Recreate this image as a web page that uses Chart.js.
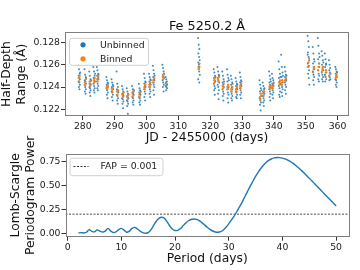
<!DOCTYPE html>
<html>
<head>
<meta charset="utf-8">
<script src="https://cdn.jsdelivr.net/npm/chart.js@4.4.1/dist/chart.umd.min.js"></script>
<style>
  html, body { margin: 0; padding: 0; background: #fff; }
  #wrap { position: relative; width: 360px; height: 270px; }
  canvas { position: absolute; left: 0; top: 0; }
</style>
</head>
<body>
<div id="wrap">
  <canvas id="lines" width="360" height="270"></canvas>
  <canvas id="power" width="360" height="270"></canvas>
</div>
<script>
// nights of observation (JD - 2455000) and half-depth range per exposure
var nightJD = [278.6, 280.5, 282.0, 283.3, 284.4, 287.4, 289.0, 290.6, 292.3, 293.8,
  295.5, 297.6, 299.2, 300.8, 302.0, 305.0, 306.0, 316.2, 321.1, 322.3,
  323.8, 325.3, 326.5, 328.0, 329.3, 335.5, 336.5, 338.5, 339.4, 341.5,
  342.3, 343.4, 350.6, 352.2, 353.8, 355.0, 356.0, 357.3, 359.3];

var unbinned = [
  [0.1260, 0.1256, 0.1252, 0.1250, 0.1248, 0.1247, 0.1245, 0.1244, 0.1242, 0.1240, 0.1238, 0.1253],
  [0.1256, 0.1251, 0.1249, 0.1246, 0.1245, 0.1243, 0.1242, 0.1240, 0.1238, 0.1236, 0.1234, 0.1248],
  [0.1254, 0.1250, 0.1247, 0.1245, 0.1243, 0.1242, 0.1240, 0.1239, 0.1237, 0.1235, 0.1232, 0.1246],
  [0.1258, 0.1254, 0.1250, 0.1248, 0.1246, 0.1245, 0.1243, 0.1241, 0.1239, 0.1237, 0.1235, 0.1252],
  [0.1258, 0.1255, 0.1252, 0.1250, 0.1248, 0.1247, 0.1245, 0.1243, 0.1241, 0.1239, 0.1237, 0.1251],
  [0.1249, 0.1246, 0.1244, 0.1242, 0.1241, 0.1240, 0.1239, 0.1237, 0.1235, 0.1233, 0.1230, 0.1243],
  [0.1247, 0.1244, 0.1242, 0.1240, 0.1239, 0.1238, 0.1236, 0.1235, 0.1233, 0.1231, 0.1228, 0.1241],
  [0.1254, 0.1243, 0.1240, 0.1238, 0.1236, 0.1235, 0.1233, 0.1232, 0.1230, 0.1228, 0.1225, 0.1237],
  [0.1241, 0.1238, 0.1236, 0.1234, 0.1233, 0.1232, 0.1230, 0.1229, 0.1227, 0.1225, 0.1221, 0.1235],
  [0.1239, 0.1236, 0.1234, 0.1232, 0.1231, 0.1230, 0.1228, 0.1227, 0.1225, 0.1223, 0.1216, 0.1233],
  [0.1241, 0.1238, 0.1236, 0.1235, 0.1234, 0.1233, 0.1231, 0.1230, 0.1228, 0.1226, 0.1224, 0.1237],
  [0.1243, 0.1239, 0.1237, 0.1235, 0.1234, 0.1233, 0.1231, 0.1230, 0.1228, 0.1226, 0.1224, 0.1236],
  [0.1252, 0.1248, 0.1245, 0.1243, 0.1241, 0.1240, 0.1238, 0.1236, 0.1234, 0.1231, 0.1228, 0.1244],
  [0.1252, 0.1249, 0.1247, 0.1245, 0.1243, 0.1242, 0.1240, 0.1238, 0.1236, 0.1234, 0.1231, 0.1246],
  [0.1259, 0.1255, 0.1252, 0.1249, 0.1247, 0.1246, 0.1244, 0.1242, 0.1240, 0.1237, 0.1233, 0.1250],
  [0.1260, 0.1257, 0.1254, 0.1251, 0.1249, 0.1248, 0.1246, 0.1244, 0.1242, 0.1240, 0.1236, 0.1252],
  [0.1249, 0.1247, 0.1245, 0.1244, 0.1243, 0.1242, 0.1241, 0.1240, 0.1239, 0.1237],
  [0.1284, 0.1278, 0.1274, 0.1270, 0.1267, 0.1264, 0.1262, 0.1260, 0.1258, 0.1256, 0.1254, 0.1251, 0.1247, 0.1244],
  [0.1256, 0.1253, 0.1250, 0.1248, 0.1246, 0.1245, 0.1243, 0.1241, 0.1239, 0.1237, 0.1233, 0.1249],
  [0.1258, 0.1254, 0.1251, 0.1248, 0.1246, 0.1244, 0.1242, 0.1240, 0.1237, 0.1234, 0.1229, 0.1250],
  [0.1254, 0.1250, 0.1247, 0.1244, 0.1242, 0.1240, 0.1238, 0.1236, 0.1234, 0.1232, 0.1228, 0.1245],
  [0.1256, 0.1251, 0.1248, 0.1245, 0.1242, 0.1240, 0.1238, 0.1235, 0.1233, 0.1230, 0.1226, 0.1246],
  [0.1250, 0.1247, 0.1244, 0.1242, 0.1240, 0.1238, 0.1236, 0.1234, 0.1232, 0.1230, 0.1228, 0.1243],
  [0.1248, 0.1245, 0.1243, 0.1241, 0.1239, 0.1238, 0.1236, 0.1235, 0.1233, 0.1231, 0.1230, 0.1242],
  [0.1253, 0.1249, 0.1246, 0.1244, 0.1242, 0.1241, 0.1239, 0.1237, 0.1235, 0.1233, 0.1230, 0.1245],
  [0.1246, 0.1242, 0.1239, 0.1236, 0.1234, 0.1232, 0.1230, 0.1228, 0.1226, 0.1224, 0.1219, 0.1237],
  [0.1244, 0.1241, 0.1238, 0.1236, 0.1235, 0.1234, 0.1232, 0.1230, 0.1228, 0.1226, 0.1223, 0.1239],
  [0.1254, 0.1250, 0.1247, 0.1244, 0.1242, 0.1240, 0.1238, 0.1236, 0.1234, 0.1231, 0.1228, 0.1245],
  [0.1252, 0.1248, 0.1246, 0.1243, 0.1242, 0.1241, 0.1239, 0.1237, 0.1235, 0.1233, 0.1230, 0.1244],
  [0.1263, 0.1256, 0.1252, 0.1248, 0.1245, 0.1243, 0.1241, 0.1239, 0.1236, 0.1233, 0.1231, 0.1249],
  [0.1269, 0.1258, 0.1253, 0.1249, 0.1246, 0.1244, 0.1242, 0.1240, 0.1238, 0.1235, 0.1232, 0.1250],
  [0.1258, 0.1254, 0.1251, 0.1249, 0.1247, 0.1246, 0.1244, 0.1242, 0.1240, 0.1237, 0.1234, 0.1250],
  [0.1286, 0.1281, 0.1276, 0.1271, 0.1267, 0.1264, 0.1261, 0.1258, 0.1255, 0.1252, 0.1248, 0.1242, 0.1269, 0.1259],
  [0.1276, 0.1270, 0.1265, 0.1261, 0.1258, 0.1256, 0.1254, 0.1251, 0.1249, 0.1246, 0.1242, 0.1263],
  [0.1284, 0.1277, 0.1270, 0.1265, 0.1261, 0.1258, 0.1255, 0.1252, 0.1250, 0.1247, 0.1245, 0.1267],
  [0.1272, 0.1268, 0.1264, 0.1260, 0.1257, 0.1255, 0.1253, 0.1251, 0.1249, 0.1247, 0.1245, 0.1262],
  [0.1270, 0.1265, 0.1261, 0.1258, 0.1255, 0.1253, 0.1251, 0.1249, 0.1247, 0.1245, 0.1260],
  [0.1264, 0.1260, 0.1257, 0.1255, 0.1253, 0.1252, 0.1250, 0.1249, 0.1247, 0.1246],
  [0.1258, 0.1256, 0.1254, 0.1252, 0.1250, 0.1249, 0.1247, 0.1246, 0.1244, 0.1242, 0.1240, 0.1253]
];

var binned = [
  [0.1248, 0.1245, 0.1250], [0.1244, 0.1242, 0.1247], [0.1243, 0.1241, 0.1245],
  [0.1246, 0.1244, 0.1248], [0.1247, 0.1245, 0.1249], [0.1240, 0.1238, 0.1241],
  [0.1238, 0.1236, 0.1239], [0.1236, 0.1233, 0.1237], [0.1233, 0.1231, 0.1235],
  [0.1231, 0.1229, 0.1233], [0.1234, 0.1232, 0.1236], [0.1233, 0.1231, 0.1235],
  [0.1240, 0.1238, 0.1242], [0.1242, 0.1240, 0.1244], [0.1246, 0.1244, 0.1248],
  [0.1249, 0.1247, 0.1251], [0.1243], [0.1258, 0.1256, 0.1261],
  [0.1246, 0.1244, 0.1248], [0.1247, 0.1245, 0.1249], [0.1241, 0.1239, 0.1243],
  [0.1240, 0.1238, 0.1242], [0.1238, 0.1236, 0.1240], [0.1238, 0.1236, 0.1240],
  [0.1241, 0.1239, 0.1243], [0.1231, 0.1229, 0.1234], [0.1234, 0.1232, 0.1236],
  [0.1240, 0.1238, 0.1241], [0.1241, 0.1239, 0.1243], [0.1244, 0.1242, 0.1246],
  [0.1244, 0.1242, 0.1246], [0.1246, 0.1245, 0.1248], [0.1258, 0.1262, 0.1266],
  [0.1253, 0.1256, 0.1258], [0.1255, 0.1258, 0.1261], [0.1254, 0.1256, 0.1258],
  [0.1250, 0.1253, 0.1255], [0.1250, 0.1252], [0.1248, 0.1249, 0.1251]
];

// time of each exposure within a night (days after nightJD)
var obsOffsets = [0, 0.2, 0.4, 0.1, 0.3, 0.5, 0.05, 0.25, 0.45, 0.15, 0.35, 0.55, 0.02, 0.38];
var binOffsets = [0.12, 0.28, 0.44];

var jdTicks = [280, 290, 300, 310, 320, 330, 340, 350, 360];
var rangeTicks = [0.122, 0.124, 0.126, 0.128];

// Lomb-Scargle periodogram
var periods = [2.0, 2.5, 3.0, 3.5, 4.0, 4.5, 5.0, 5.5, 6.0, 6.5, 7.0, 7.5, 8.0, 8.5, 9.0, 9.5,
  10.0, 10.5, 11.0, 11.5, 12.0, 12.5, 13.0, 13.5, 14.0, 14.5, 15.0, 15.5, 16.0, 16.5, 17.0, 17.5,
  18.0, 18.5, 19.0, 19.5, 20.0, 20.5, 21.0, 21.5, 22.0, 22.5, 23.0, 23.5, 24.0, 24.5, 25.0, 25.5,
  26.0, 26.5, 27.0, 27.5, 28.0, 28.5, 29.0, 29.5, 30.0, 30.5, 31.0, 31.5, 32.0, 32.5, 33.0, 33.5,
  34.0, 34.5, 35.0, 35.5, 36.0, 36.5, 37.0, 37.5, 38.0, 38.5, 39.0, 39.5, 40.0, 40.5, 41.0, 41.5,
  42.0, 42.5, 43.0, 43.5, 44.0, 44.5, 45.0, 45.5, 46.0, 46.5, 47.0, 47.5, 48.0, 48.5, 49.0, 49.5, 50.0];
var power = [0.010, 0.014, 0.011, 0.018, 0.045, 0.028, 0.022, 0.042, 0.030, 0.020, 0.030, 0.058, 0.032, 0.015, 0.022, 0.045,
  0.058, 0.040, 0.018, 0.030, 0.058, 0.068, 0.052, 0.030, 0.014, 0.008, 0.014, 0.042, 0.088, 0.132, 0.162, 0.173,
  0.162, 0.128, 0.085, 0.052, 0.036, 0.038, 0.056, 0.085, 0.114, 0.137, 0.150, 0.155, 0.151, 0.138, 0.118, 0.094,
  0.069, 0.047, 0.031, 0.021, 0.018, 0.024, 0.042, 0.070, 0.105, 0.145, 0.185, 0.230, 0.280, 0.330, 0.385, 0.440,
  0.495, 0.545, 0.595, 0.640, 0.680, 0.714, 0.742, 0.763, 0.778, 0.787, 0.791, 0.790, 0.785, 0.776, 0.763, 0.748,
  0.730, 0.708, 0.684, 0.658, 0.632, 0.604, 0.576, 0.548, 0.519, 0.491, 0.462, 0.433, 0.404, 0.375, 0.347, 0.318, 0.290];
var fapLevel = 0.205;
var periodTicks = [0, 10, 20, 30, 40, 50];
var powerTicks = [0, 0.25, 0.5, 0.75];

var BLUE = "#1f77b4";
var ORANGE = "#ff7f0e";
var FONT = "'DejaVu Sans', sans-serif";
var TICK_FONT = { family: FONT, size: 9.3 };
var LABEL_FONT = { family: FONT, size: 12.3, lineHeight: 1.17 };

Chart.defaults.font.family = FONT;
Chart.defaults.color = "#222";

var unbinnedPoints = [];
var binnedPoints = [];
for (var i = 0; i < nightJD.length; i++) {
  for (var j = 0; j < unbinned[i].length; j++) {
    unbinnedPoints.push({ x: nightJD[i] + obsOffsets[j % obsOffsets.length], y: unbinned[i][j] });
  }
  for (var k = 0; k < binned[i].length; k++) {
    binnedPoints.push({ x: nightJD[i] + binOffsets[k], y: binned[i][k] });
  }
}

var powerPoints = periods.map(function (p, i) { return { x: p, y: power[i] }; });

function fixedTicks(list) {
  return function (scale) {
    scale.ticks = list.map(function (v) { return { value: v }; });
  };
}

// gray frame round the plot area, optional title, and an in-axes legend
function framePlugin(legend, title) {
  return {
    id: "frame",
    afterDraw: function (chart) {
      var ctx = chart.ctx, a = chart.chartArea;
      ctx.save();
      ctx.strokeStyle = "#808080";
      ctx.lineWidth = 1;
      ctx.strokeRect(Math.round(a.left) + 0.5, Math.round(a.top) + 0.5,
        Math.round(a.right - a.left) - 1, Math.round(a.bottom - a.top) - 1);

      if (title) {
        ctx.font = "12.8px " + FONT;
        ctx.fillStyle = "#111";
        ctx.textAlign = "center";
        ctx.textBaseline = "alphabetic";
        ctx.fillText(title, (a.left + a.right) / 2, a.top - 2.5);
        ctx.textAlign = "left";
      }

      var bx = a.left + 4, by = a.top + legend.dy;
      ctx.beginPath();
      ctx.roundRect(bx + 0.5, by + 0.5, legend.w, legend.h, 2.5);
      ctx.fillStyle = "rgba(255,255,255,0.8)";
      ctx.fill();
      ctx.strokeStyle = "#d0d0d0";
      ctx.stroke();

      ctx.font = "9.3px " + FONT;
      ctx.textBaseline = "middle";
      legend.items.forEach(function (it, n) {
        var y = by + legend.first + n * legend.step;
        if (it.kind === "dot") {
          ctx.beginPath();
          ctx.arc(bx + 14, y, 2.6, 0, Math.PI * 2);
          ctx.fillStyle = it.color;
          ctx.fill();
        } else {
          ctx.beginPath();
          ctx.setLineDash([2, 1.5]);
          ctx.strokeStyle = "#333";
          ctx.moveTo(bx + 4, y);
          ctx.lineTo(bx + 19, y);
          ctx.stroke();
          ctx.setLineDash([]);
        }
        ctx.fillStyle = "#222";
        ctx.fillText(it.text, bx + 31, y + 0.5);
      });
      ctx.restore();
    }
  };
}

new Chart(document.getElementById("lines").getContext("2d"), {
  type: "scatter",
  data: {
    datasets: [
      {
        label: "Binned",
        data: binnedPoints,
        backgroundColor: ORANGE,
        borderWidth: 0,
        pointRadius: 1.15,
        order: 1
      },
      {
        label: "Unbinned",
        data: unbinnedPoints,
        backgroundColor: "rgba(31,119,180,0.85)",
        borderWidth: 0,
        pointRadius: 1.0,
        order: 2
      }
    ]
  },
  options: {
    responsive: false,
    animation: false,
    layout: { padding: { left: 0, right: 11, top: 32.4, bottom: 125 } },
    plugins: {
      legend: { display: false },
      tooltip: { enabled: false },
      title: { display: false }
    },
    scales: {
      x: {
        type: "linear",
        min: 274.4,
        max: 363.6,
        afterBuildTicks: fixedTicks(jdTicks),
        afterFit: function (s) { s.height = 29; },
        border: { display: false },
        grid: { drawOnChartArea: false, drawTicks: true, tickLength: 4, color: "#333" },
        ticks: { font: TICK_FONT, padding: 1, maxRotation: 0, color: "#222" },
        title: { display: true, text: "JD - 2455000 (days)", font: LABEL_FONT, color: "#111", padding: { top: 0, bottom: 0 } }
      },
      y: {
        min: 0.1214,
        max: 0.1289,
        afterBuildTicks: fixedTicks(rangeTicks),
        afterFit: function (s) { s.width = 65; },
        border: { display: false },
        grid: { drawOnChartArea: false, drawTicks: true, tickLength: 4, color: "#333" },
        ticks: { font: TICK_FONT, padding: 1, color: "#222", callback: function (v) { return v.toFixed(3); } },
        title: { display: true, text: ["Half-Depth", "Range (Å)"], font: LABEL_FONT, color: "#111", padding: { top: 0, bottom: 0 } }
      }
    }
  },
  plugins: [framePlugin({
    dy: 5.4, w: 79, h: 27, first: 7, step: 14,
    items: [
      { kind: "dot", color: BLUE, text: "Unbinned" },
      { kind: "dot", color: ORANGE, text: "Binned" }
    ]
  }, "Fe 5250.2 Å")]
});

new Chart(document.getElementById("power").getContext("2d"), {
  type: "scatter",
  data: {
    datasets: [
      {
        label: "Power",
        data: powerPoints,
        showLine: true,
        borderColor: BLUE,
        borderWidth: 1.4,
        pointRadius: 0,
        tension: 0.3,
        order: 1
      },
      {
        label: "FAP = 0.001",
        data: [{ x: -0.4, y: fapLevel }, { x: 52.4, y: fapLevel }],
        showLine: true,
        borderColor: "#333",
        borderWidth: 0.9,
        borderDash: [2, 1.5],
        pointRadius: 0,
        order: 2
      }
    ]
  },
  options: {
    responsive: false,
    animation: false,
    layout: { padding: { left: 9, right: 11, top: 154, bottom: 0 } },
    plugins: { legend: { display: false }, tooltip: { enabled: false } },
    scales: {
      x: {
        type: "linear",
        min: -0.4,
        max: 52.4,
        afterBuildTicks: fixedTicks(periodTicks),
        afterFit: function (s) { s.height = 33.3; },
        border: { display: false },
        grid: { drawOnChartArea: false, drawTicks: true, tickLength: 4, color: "#333" },
        ticks: { font: TICK_FONT, padding: 1, maxRotation: 0, color: "#222" },
        title: { display: true, text: "Period (days)", font: LABEL_FONT, color: "#111", padding: { top: 0, bottom: 4 } }
      },
      y: {
        min: -0.028,
        max: 0.827,
        afterBuildTicks: fixedTicks(powerTicks),
        afterFit: function (s) { s.width = 56.5; },
        border: { display: false },
        grid: { drawOnChartArea: false, drawTicks: true, tickLength: 4, color: "#333" },
        ticks: { font: TICK_FONT, padding: 1, color: "#222", callback: function (v) { return v.toFixed(2); } },
        title: { display: true, text: ["Lomb-Scargle", "Periodogram Power"], font: LABEL_FONT, color: "#111", padding: { top: 0, bottom: 0 } }
      }
    }
  },
  plugins: [framePlugin({
    dy: 3.7, w: 93, h: 17.5, first: 8.8, step: 14,
    items: [{ kind: "dash", text: "FAP = 0.001" }]
  }, null)]
});
</script>
</body>
</html>
